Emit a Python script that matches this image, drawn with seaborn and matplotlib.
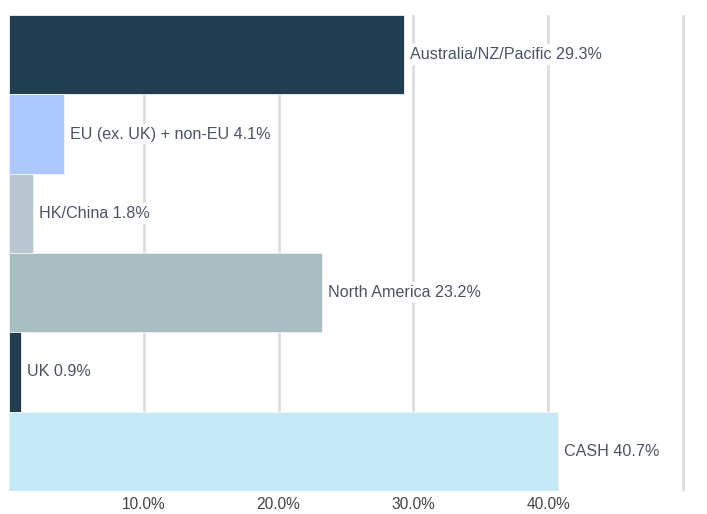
import matplotlib
matplotlib.use('Agg')
import matplotlib.pyplot as plt
import seaborn as sns
import pandas as pd

# datos del gráfico
regiones = ['Australia/NZ/Pacific', 'EU (ex. UK) + non-EU', 'HK/China',
            'North America', 'UK', 'CASH']
pesos = [29.3, 4.1, 1.8, 23.2, 0.9, 40.7]
colores = ['#203d52', '#adc8ff', '#b9c7d0', '#a7bfc3', '#203d52', '#c5e9f7']
ticks = [10, 20, 30, 40, 50]
tick_labels = ['10.0%', '20.0%', '30.0%', '40.0%', '']

df = pd.DataFrame({'region': regiones, 'peso': pesos})

sns.set_style('white')
plt.rcParams['font.family'] = ['Liberation Sans', 'DejaVu Sans']

fig = plt.figure(figsize=(7.07, 5.14), dpi=100)
ax = fig.add_axes([9 / 707, 23 / 514, 676 / 707, 476 / 514])

sns.barplot(data=df, x='peso', y='region', hue='region', palette=colores,
            orient='h', width=1.0, legend=False, ax=ax, saturation=1,
            edgecolor='#f4f4f4', linewidth=0.6)

ax.set_xlim(0, 50.15)
ax.set_ylim(len(regiones) - 0.5, -0.5)
ax.set_xticks(ticks)
ax.set_xticklabels(tick_labels, fontsize=11.2, color='#444444')
ax.set_yticks([])
ax.set_xlabel('')
ax.set_ylabel('')
ax.grid(axis='x', color='#dddddd', linewidth=2)
ax.set_axisbelow(True)
ax.tick_params(axis='x', length=0, pad=4.5)
for s in ax.spines.values():
    s.set_visible(False)

# etiquetas al final de cada barra
for i, (r, v) in enumerate(zip(regiones, pesos)):
    ax.text(v + 0.45, i, f'{r} {v}%', va='center', ha='left',
            fontsize=11.6, color='#4a5364',
            bbox=dict(facecolor='white', edgecolor='none', pad=2))

fig.savefig('out.png', dpi=100)
